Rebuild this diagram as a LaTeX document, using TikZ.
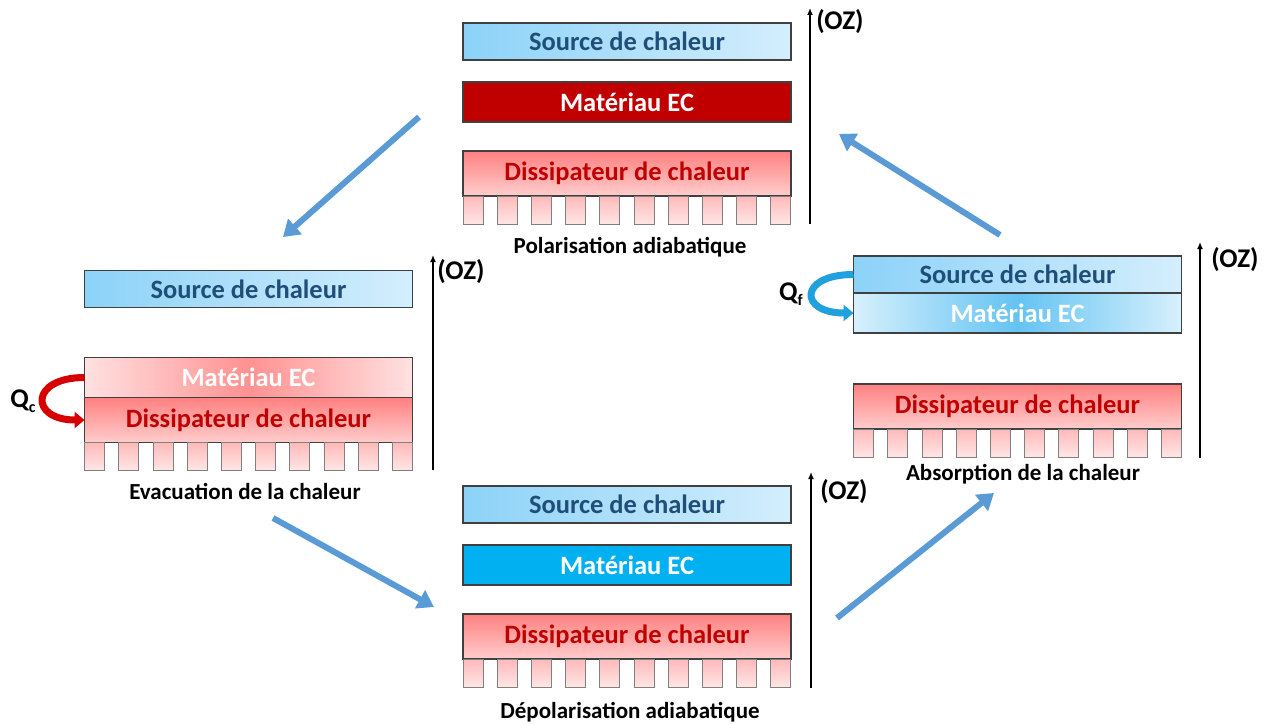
\documentclass[tikz,border=0pt]{standalone}
\usepackage{fontspec}
\setmainfont{Carlito}
\usepackage{tikz}
\usetikzlibrary{positioning}
\usetikzlibrary{arrows.meta}
\usetikzlibrary{calc}

\definecolor{boxline}{RGB}{64,64,64}
\definecolor{srcA}{RGB}{140,210,248}
\definecolor{srcB}{RGB}{212,238,253}
\definecolor{srctext}{RGB}{31,78,121}
\definecolor{ecred}{RGB}{192,0,0}
\definecolor{ecblue}{RGB}{0,176,240}
\definecolor{dissA}{RGB}{255,128,128}
\definecolor{dissB}{RGB}{255,205,205}
\definecolor{disstext}{RGB}{192,0,0}
\definecolor{finA}{RGB}{255,185,185}
\definecolor{finB}{RGB}{255,230,230}
\definecolor{hotA}{RGB}{255,225,225}
\definecolor{hotB}{RGB}{255,145,145}
\definecolor{coldA}{RGB}{215,240,253}
\definecolor{coldB}{RGB}{100,195,242}
\definecolor{cycle}{RGB}{91,155,213}
\definecolor{qred}{RGB}{215,0,0}
\definecolor{qblue}{RGB}{32,160,220}

\begin{document}
\begin{tikzpicture}
  [
    x=1pt, y=-1pt,
    layer/.style={draw=boxline, line width=1.2pt, minimum width=328pt,
      inner sep=0pt, outer sep=0pt,
      font=\bfseries\fontsize{26.5}{30}\selectfont},
    source/.style={layer, minimum height=37pt, left color=srcA,
      right color=srcB, text=srctext},
    ecmat/.style={layer, minimum height=40pt, text=white},
    diss/.style={layer, minimum height=45pt, top color=dissA,
      bottom color=dissB, text=disstext},
    fin/.style={draw=gray, line width=0.8pt, top color=finA,
      bottom color=finB},
    axis/.style={line width=1.5pt, -{Latex[length=7pt,width=6pt]}},
    oz/.style={font=\bfseries\fontsize{27}{30}\selectfont, inner sep=0pt},
    caption/.style={font=\bfseries\fontsize{23}{26}\selectfont},
    cyc/.style={draw=cycle, line width=6pt,
      -{Triangle[length=16pt,width=20pt]}},
    qarrow/.style={line width=7pt, -{Triangle[length=10pt,width=16pt]}}
  ]
  \useasboundingbox (0,0) rectangle (1267,725);

  % polarisation (top)
  \node (srcT) at (627,41.5) [source] {Source de chaleur};
  \node (ecT) [ecmat, fill=ecred, below=22pt of srcT] {Matériau EC};
  \node (dsT) [diss, below=29pt of ecT] {Dissipateur de chaleur};
  \foreach \i in {0,...,9}
    \draw [fin] ($(dsT.south west)+(34.2*\i,0)$) rectangle +(20,28);
  \coordinate (axTb) at (810,224);
  \coordinate (axTt) at (810,8);
  \draw [axis] (axTb) -- (axTt);
  \node (ozT) at (840,22) [oz] {(OZ)};
  \node (capT) at (630,247) [caption] {Polarisation adiabatique};

  % evacuation (left)
  \node (srcL) at (248.5,289) [source] {Source de chaleur};
  \node (ecL) [ecmat, left color=hotA, right color=hotA, middle color=hotB,
    below=50pt of srcL] {Matériau EC};
  \node (dsL) [diss, below=0pt of ecL] {Dissipateur de chaleur};
  \foreach \i in {0,...,9}
    \draw [fin] ($(dsL.south west)+(34.2*\i,0)$) rectangle +(20,28);
  \coordinate (axLb) at (433,470);
  \coordinate (axLt) at (433,255);
  \draw [axis] (axLb) -- (axLt);
  \node (ozL) at (461,272) [oz] {(OZ)};
  \node (capL) at (245,491) [caption] {Evacuation de la chaleur};
  \draw [qarrow, draw=qred] (ecL.west) .. controls +(-55,0) and +(-55,0) .. (dsL.west);
  \node (qc) at (23,401) [oz] {Q\raisebox{-0.35ex}{\fontsize{16}{18}\selectfont c}};

  % absorption (right)
  \node (srcR) at (1017.5,274.5) [source] {Source de chaleur};
  \node (ecR) [ecmat, left color=coldA, right color=coldA, middle color=coldB,
    below=0pt of srcR] {Matériau EC};
  \node (dsR) [diss, below=51pt of ecR] {Dissipateur de chaleur};
  \foreach \i in {0,...,9}
    \draw [fin] ($(dsR.south west)+(34.2*\i,0)$) rectangle +(20,28);
  \coordinate (axRb) at (1200,458);
  \coordinate (axRt) at (1200,242);
  \draw [axis] (axRb) -- (axRt);
  \node (ozR) at (1235,260) [oz] {(OZ)};
  \node (capR) at (1023,474) [caption] {Absorption de la chaleur};
  \draw [qarrow, draw=qblue] (srcR.west) .. controls +(-55,0) and +(-55,0) .. (ecR.west);
  \node (qf) at (791,294) [oz] {Q\raisebox{-0.35ex}{\fontsize{16}{18}\selectfont f}};

  % depolarisation (bottom)
  \node (srcB) at (627,504.5) [source] {Source de chaleur};
  \node (ecB) [ecmat, fill=ecblue, below=22pt of srcB] {Matériau EC};
  \node (dsB) [diss, below=29pt of ecB] {Dissipateur de chaleur};
  \foreach \i in {0,...,9}
    \draw [fin] ($(dsB.south west)+(34.2*\i,0)$) rectangle +(20,28);
  \coordinate (axBb) at (811,688);
  \coordinate (axBt) at (811,472);
  \draw [axis] (axBb) -- (axBt);
  \node (ozB) at (844,492) [oz] {(OZ)};
  \node (capB) at (630,712) [caption] {Dépolarisation adiabatique};

  % cycle
  \coordinate (c1s) at (419,117);
  \coordinate (c1e) at (283,237);
  \coordinate (c2s) at (273,518);
  \coordinate (c2e) at (434,607);
  \coordinate (c3s) at (837,618);
  \coordinate (c3e) at (994,493);
  \coordinate (c4s) at (1000,235);
  \coordinate (c4e) at (839,134);
  \draw [cyc] (c1s) -- (c1e);
  \draw [cyc] (c2s) -- (c2e);
  \draw [cyc] (c3s) -- (c3e);
  \draw [cyc] (c4s) -- (c4e);
\end{tikzpicture}
\end{document}
